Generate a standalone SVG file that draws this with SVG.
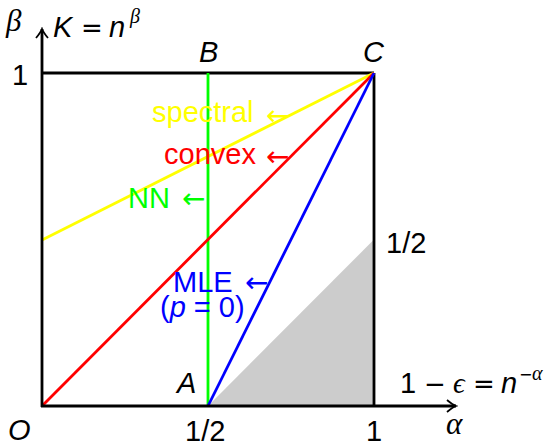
<svg xmlns="http://www.w3.org/2000/svg" width="552" height="447" viewBox="0 0 552 447">
<style>
.s{font-family:"Liberation Sans",Arial,sans-serif;font-size:29px}
.i{font-style:italic}
.d{font-family:"DejaVu Sans",sans-serif;font-style:normal}
.m{font-family:"Liberation Serif","DejaVu Serif",serif;font-style:italic}
.ar{font-family:"DejaVu Sans",sans-serif;font-size:28px}
.ln{fill:none;stroke-width:2.8;stroke-linecap:butt}
</style>
<defs>
<marker id="ah" markerWidth="14" markerHeight="14" refX="0" refY="0" viewBox="-12 -7 14 14" orient="auto" markerUnits="userSpaceOnUse">
<path d="M-9,-6 Q-3,-1 0,0 Q-3,1 -9,6" fill="none" stroke="#000" stroke-width="1.8"/>
</marker>
</defs>
<rect width="552" height="447" fill="#fff"/>
<polygon id="region" points="208,406 374,406 374,239.5" fill="#cccccc"/>
<g id="connectors">
<line class="ln" x1="374" y1="73" x2="374" y2="406" stroke="#000"/>
<line class="ln" x1="42" y1="73" x2="374" y2="73" stroke="#000"/>
<line class="ln" x1="42" y1="240" x2="374" y2="73" stroke="#ffff00"/>
<line class="ln" x1="208" y1="73" x2="208" y2="406" stroke="#00ff00"/>
<line class="ln" x1="42" y1="406" x2="374" y2="73" stroke="#ff0000"/>
<line class="ln" x1="208" y1="406" x2="374" y2="73" stroke="#0000ff"/>
<line class="ln" x1="42" y1="407" x2="42" y2="29" stroke="#000" marker-end="url(#ah)"/>
<line class="ln" x1="41" y1="406" x2="456" y2="406" stroke="#000" marker-end="url(#ah)"/>
</g>
<g id="axis-labels" class="s">
<text class="m" x="6" y="31" font-size="31">β</text>
<text y="37"><tspan class="i" x="53">K</tspan></text>
<text class="d" x="81" y="37" font-size="26">=</text>
<text class="i" x="109" y="37">n</text>
<text class="m" x="130" y="23" font-size="20">β</text>
<text x="12" y="85">1</text>
<text class="i" x="199" y="62">B</text>
<text class="i" x="363" y="62">C</text>
<text x="386" y="253">1/2</text>
<text x="400" y="393">1</text>
<text class="d" x="424" y="393" font-size="26">−</text>
<text class="m" x="453" y="393" font-family="DejaVu Serif" font-size="29">ϵ</text>
<text class="d" x="473" y="393" font-size="26">=</text>
<text class="i" x="501" y="393">n</text>
<text class="d" x="519" y="380" font-size="16">−</text>
<text class="m" x="532" y="380" font-size="20">α</text>
<text class="m" x="446" y="434" font-size="31">α</text>
<text class="i" x="8" y="440">O</text>
<text x="185" y="441">1/2</text>
<text x="366" y="441">1</text>
<text class="i" x="177" y="393">A</text>
</g>
<g id="spectral" fill="#ffff00">
<text class="s" x="152" y="122">spectral</text>
<text class="ar" x="266" y="125">←</text>
</g>
<g id="convex" fill="#ff0000">
<text class="s" x="164" y="164">convex</text>
<text class="ar" x="266" y="166">←</text>
</g>
<g id="nn" fill="#00ff00">
<text class="s" x="128" y="208">NN</text>
<text class="ar" x="182" y="208">←</text>
</g>
<g id="mle" fill="#0000ff">
<text class="s" x="173" y="292">MLE</text>
<text class="ar" x="245" y="292">←</text>
<text class="s" x="160" y="317">(<tspan class="i">p</tspan> = 0)</text>
</g>
</svg>
